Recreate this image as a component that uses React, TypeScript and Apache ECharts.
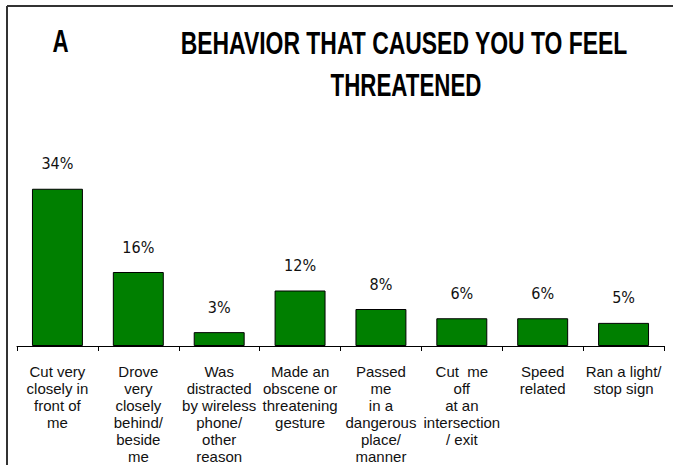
import React, { useEffect, useRef } from "react";
import * as echarts from "echarts";

const categories = [
  "Cut very\nclosely in\nfront of\nme",
  "Drove\nvery\nclosely\nbehind/\nbeside\nme",
  "Was\ndistracted\nby wireless\nphone/\nother\nreason",
  "Made an\nobscene or\nthreatening\ngesture",
  "Passed\nme\nin a\ndangerous\nplace/\nmanner",
  "Cut  me\noff\nat an\nintersection\n/ exit",
  "Speed\nrelated",
  "Ran a light/\nstop sign",
];
const values = [34, 16, 3, 12, 8, 6, 6, 5];
const titleLetter = "A";
const titleLines = ["BEHAVIOR THAT CAUSED YOU TO FEEL", "THREATENED"];

const NARROW = '"DejaVu Sans Condensed", "Liberation Sans", Arial, sans-serif';
const REG = '"Liberation Sans", Arial, sans-serif';
const TITLE_FONT = 'bold 31px "Liberation Sans", Arial, sans-serif';

export default function App() {
  const ref = useRef<HTMLDivElement>(null);
  useEffect(() => {
    if (!ref.current) return;
    const chart = echarts.init(ref.current, null, { renderer: "svg" });
    chart.setOption({
      animation: false,
      backgroundColor: "#ffffff",
      grid: { left: 17, right: 9, top: 161, bottom: 119, containLabel: false },
      xAxis: {
        type: "category",
        data: categories,
        axisLine: { lineStyle: { color: "#000", width: 1 } },
        axisTick: { show: true, length: 5, lineStyle: { color: "#000" } },
        axisLabel: {
          interval: 0,
          margin: 17,
          color: "#111",
          fontFamily: REG,
          fontSize: 15,
          lineHeight: 17,
        },
      },
      yAxis: {
        type: "value",
        min: 0,
        max: 40,
        show: false,
        splitLine: { show: false },
      },
      series: [
        {
          type: "bar",
          data: values,
          barWidth: "63%",
          itemStyle: { color: "#007f00", borderColor: "#000", borderWidth: 1 },
          label: {
            show: true,
            position: "top",
            distance: 17,
            formatter: "{c}%",
            fontFamily: NARROW,
            fontSize: 16,
            color: "#111",
          },
        },
      ],
      graphic: [
        { type: "line", shape: { x1: 7, y1: 6, x2: 673, y2: 6 }, style: { stroke: "#333", lineWidth: 2 } },
        { type: "line", shape: { x1: 7, y1: 6, x2: 7, y2: 465 }, style: { stroke: "#333", lineWidth: 2 } },
        {
          type: "text",
          x: 60.5,
          y: 42,
          scaleX: 0.72,
          style: { text: titleLetter, font: TITLE_FONT, fill: "#000", textAlign: "center", textVerticalAlign: "middle" },
        },
        {
          type: "text",
          x: 404,
          y: 43,
          scaleX: 0.74,
          style: { text: titleLines[0], font: TITLE_FONT, fill: "#000", textAlign: "center", textVerticalAlign: "middle" },
        },
        {
          type: "text",
          x: 406,
          y: 85.5,
          scaleX: 0.72,
          style: { text: titleLines[1], font: TITLE_FONT, fill: "#000", textAlign: "center", textVerticalAlign: "middle" },
        },
      ],
    });
    return () => chart.dispose();
  }, []);
  return <div ref={ref} style={{ position: "absolute", left: 0, top: 0, width: 673, height: 465 }} />;
}
